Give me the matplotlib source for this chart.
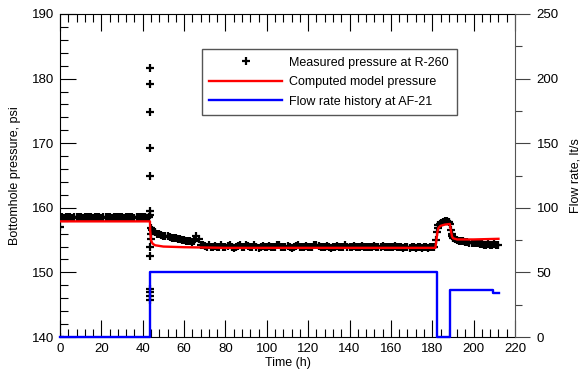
import numpy as np
import matplotlib
matplotlib.use('Agg')
import matplotlib.pyplot as plt
from matplotlib.ticker import MultipleLocator

plt.rcParams['font.family'] = ['Liberation Sans', 'DejaVu Sans']
plt.rcParams['font.size'] = 9.5

# measured bottomhole pressure at R-260 (psi), hourly before the test
t_pre = np.arange(0, 44, 1.0)
p_pre = [158.5, 158.6, 158.4, 158.5, 158.6, 158.5, 158.4, 158.5, 158.6, 158.5,
         158.5, 158.4, 158.6, 158.5, 158.5, 158.6, 158.4, 158.5, 158.5, 158.6,
         158.4, 158.5, 158.6, 158.5, 158.5, 158.4, 158.6, 158.5, 158.5, 158.6,
         158.5, 158.4, 158.5, 158.6, 158.5, 158.5, 158.4, 158.6, 158.5, 158.5,
         158.6, 158.5, 158.4, 158.5]

# isolated readings (start of record and the pump start spike)
t_odd = [0.0, 0.2, 43.6, 43.6, 43.6, 43.6, 43.6, 43.6, 43.6, 43.6, 43.6,
         43.6, 43.6, 43.6, 43.6, 43.8, 44.0, 44.3]
p_odd = [140.0, 157.0, 181.6, 179.2, 174.8, 169.3, 164.9, 159.5, 158.9, 154.0,
         152.6, 147.4, 146.9, 146.4, 145.8, 155.2, 156.0, 156.6]

# measured pressure during flow at AF-21, hourly 44..181 h
t_flow = np.arange(44, 182, 1.0)
p_flow = [156.8, 156.4, 156.2, 156.0, 155.9, 155.8, 155.7, 155.6, 155.6, 155.5,
          155.4, 155.3, 155.3, 155.2, 155.1, 155.0, 155.0, 154.9, 154.8, 154.8,
          154.7, 154.9, 155.7, 155.2, 154.3, 154.2, 154.1, 154.0, 154.2, 153.9,
          154.0, 154.1, 153.9, 154.0, 154.2, 154.0, 153.9, 154.1, 154.3, 154.0,
          153.8, 154.0, 154.1, 154.2, 153.9, 154.0, 154.3, 154.1, 153.9, 154.0,
          154.2, 154.0, 153.8, 154.0, 154.1, 154.0, 153.9, 154.1, 154.0, 153.9,
          154.0, 154.2, 154.3, 154.0, 153.9, 154.0, 154.1, 154.0, 153.8, 154.0,
          154.1, 154.2, 154.0, 153.9, 154.0, 154.1, 154.0, 153.9, 154.0, 154.2,
          154.3, 154.1, 154.0, 153.9, 154.0, 154.1, 154.0, 153.8, 153.9, 154.0,
          154.1, 154.0, 153.9, 154.0, 154.2, 154.0, 153.9, 154.0, 154.1, 154.0,
          153.9, 154.0, 154.1, 154.0, 153.9, 154.0, 154.0, 153.9, 154.1, 154.0,
          153.9, 154.0, 154.1, 154.0, 153.9, 154.0, 153.9, 154.0, 154.1, 153.9,
          154.0, 153.9, 153.8, 154.0, 153.9, 153.8, 154.0, 153.9, 153.8, 153.9,
          153.9, 153.8, 154.0, 153.9, 153.8, 153.9, 153.9, 154.0]

# measured pressure, shut-in and second flow period
t_late = [182.0, 182.3, 182.6, 183.0, 183.5, 184.0, 185.0, 186.0, 187.0, 188.0,
          188.5, 189.0, 189.3, 189.6, 190.0, 191.0, 192.0, 193.0, 194.0, 195.0,
          196.0, 197.0, 198.0, 199.0, 200.0, 201.0, 202.0, 203.0, 204.0, 205.0,
          206.0, 207.0, 208.0, 209.0, 210.0, 211.0, 212.0]
p_late = [155.0, 156.2, 156.9, 157.3, 157.5, 157.6, 157.8, 157.9, 157.9, 157.8,
          157.5, 156.6, 156.0, 155.6, 155.4, 155.2, 155.0, 154.9, 154.8, 154.8,
          154.7, 154.7, 154.6, 154.6, 154.5, 154.5, 154.5, 154.4, 154.4, 154.3,
          154.3, 154.4, 154.3, 154.3, 154.4, 154.2, 154.3]

# computed model pressure (psi)
t_model = [0, 43.5, 43.6, 44.0, 44.5, 45, 46, 48, 50, 60, 80, 100, 150, 181.5,
           182, 182.5, 183, 184, 186, 188.5, 189, 189.5, 190, 192, 200, 212]
p_model = [157.9, 157.9, 156.5, 155.0, 154.6, 154.4, 154.2, 154.1, 154.0, 153.9,
           153.8, 153.8, 153.8, 153.8, 155.0, 156.3, 156.9, 157.2, 157.4, 157.5,
           156.5, 155.6, 155.3, 155.1, 155.1, 155.2]

# flow rate history at AF-21 (lt/s)
t_q = [0, 43.5, 182.4, 188.6, 209.5, 212.4]
q = [0, 50, 0, 36, 34, 34]

fig = plt.figure(figsize=(5.82, 3.78), dpi=100)
ax = fig.add_axes([60 / 582, 41 / 378, 455 / 582, 323 / 378])
ax2 = ax.twinx()

t_meas = np.concatenate([t_pre, t_odd, t_flow, t_late])
p_meas = np.concatenate([p_pre, p_odd, p_flow, p_late])
h1, = ax.plot(t_meas, p_meas, '+', color='black', ms=6, mew=1.6,
              label='Measured pressure at R-260', zorder=3)
h2, = ax.plot(t_model, p_model, color='red', lw=1.7,
              label='Computed model pressure', zorder=4)
h3, = ax2.plot(t_q, q, color='blue', lw=1.7, drawstyle='steps-post',
               label='Flow rate history at AF-21', zorder=5, clip_on=False)

ax.set_xlim(0, 220)
ax.set_ylim(140, 190)
ax2.set_ylim(0, 250)

ax.xaxis.set_major_locator(MultipleLocator(20))
ax.xaxis.set_minor_locator(MultipleLocator(4))
ax.yaxis.set_major_locator(MultipleLocator(10))
ax.yaxis.set_minor_locator(MultipleLocator(2))
ax2.yaxis.set_major_locator(MultipleLocator(50))
ax2.yaxis.set_minor_locator(MultipleLocator(25))

ax.tick_params(axis='x', which='both', direction='in', top=True, bottom=True,
               labelsize=9.5, pad=4)
ax.tick_params(axis='x', which='major', length=12, width=0.8)
ax.tick_params(axis='x', which='minor', length=6, width=0.8)
ax.tick_params(axis='y', which='both', direction='in', right=False,
               labelsize=9.5, pad=4)
ax.tick_params(axis='y', which='major', length=11.5, width=0.8)
ax.tick_params(axis='y', which='minor', length=5.8, width=0.8)

ax2.tick_params(axis='y', which='both', direction='out', colors='#444444',
                labelcolor='black', labelsize=9.5, pad=5)
ax2.tick_params(axis='y', which='major', length=10.5, width=0.8)
ax2.tick_params(axis='y', which='minor', length=5, width=0.8)
ax2.spines['right'].set_color('#555555')
ax.spines['right'].set_visible(False)
for s in ['left', 'top', 'bottom']:
    ax2.spines[s].set_visible(False)
    ax.spines[s].set_linewidth(0.8)

ax.set_xlabel('Time (h)', fontsize=9, labelpad=2)
ax.set_ylabel('Bottomhole pressure, psi', fontsize=9, labelpad=8)
ax2.set_ylabel('Flow rate, lt/s', fontsize=9, labelpad=8)

leg = ax2.legend([h1, h2, h3], [h1.get_label(), h2.get_label(), h3.get_label()],
                 loc='upper left', bbox_to_anchor=(0.312, 0.684, 0.5605, 0.2076),
                 mode='expand', borderaxespad=0, numpoints=1, handlelength=5.8,
                 handletextpad=0.6, labelspacing=0.6, borderpad=0.6,
                 fancybox=False, fontsize=9)
leg.get_frame().set_edgecolor('#555555')
leg.get_frame().set_linewidth(1.0)
leg.get_frame().set_alpha(1)

fig.savefig('out.png', dpi=100)
